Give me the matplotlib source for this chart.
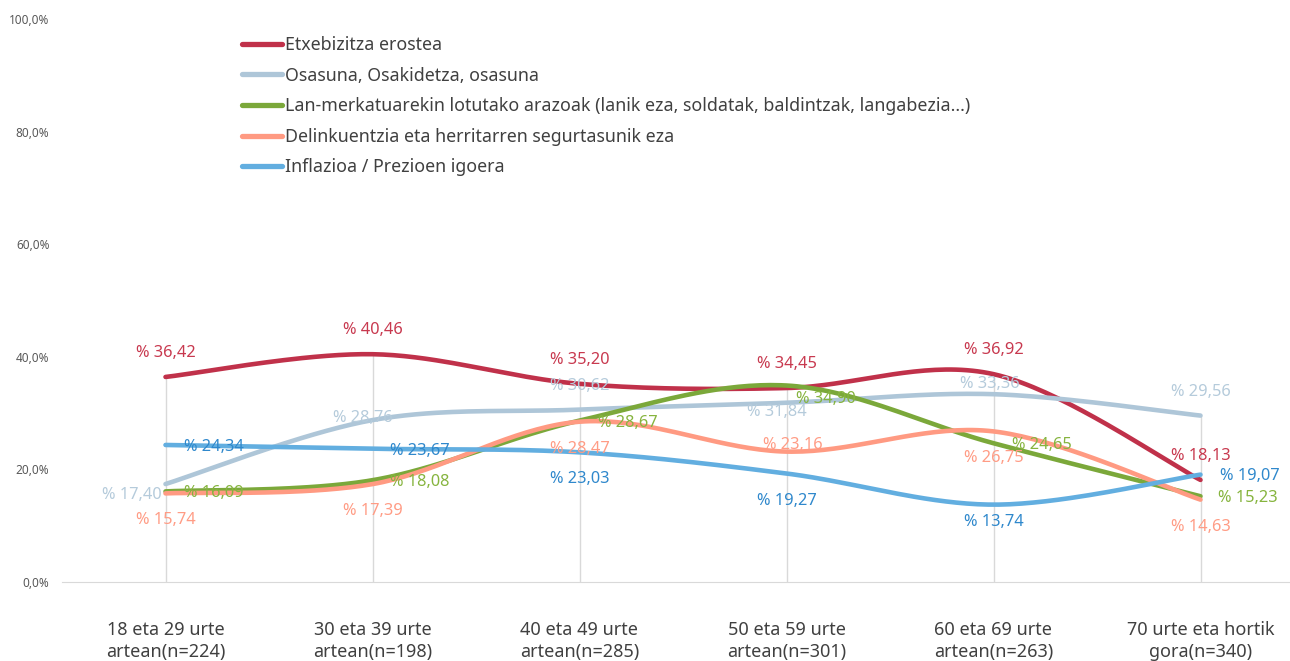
import numpy as np
import matplotlib
matplotlib.use("Agg")
import matplotlib.pyplot as plt

plt.rcParams['font.family'] = ['Noto Sans', 'DejaVu Sans']

categories = ["18 eta 29 urte\nartean(n=224)", "30 eta 39 urte\nartean(n=198)",
              "40 eta 49 urte\nartean(n=285)", "50 eta 59 urte\nartean(n=301)",
              "60 eta 69 urte\nartean(n=263)", "70 urte eta hortik\ngora(n=340)"]

etxebizitza = [36.42, 40.46, 35.20, 34.45, 36.92, 18.13]
osasuna = [17.40, 28.76, 30.62, 31.84, 33.36, 29.56]
lan_merkatua = [16.09, 18.08, 28.67, 34.90, 24.65, 15.23]
delinkuentzia = [15.74, 17.39, 28.47, 23.16, 26.75, 14.63]
inflazioa = [24.34, 23.67, 23.03, 19.27, 13.74, 19.07]

names = ["Etxebizitza erostea",
         "Osasuna, Osakidetza, osasuna",
         "Lan-merkatuarekin lotutako arazoak (lanik eza, soldatak, baldintzak, langabezia...)",
         "Delinkuentzia eta herritarren segurtasunik eza",
         "Inflazioa / Prezioen igoera"]

series = [etxebizitza, osasuna, lan_merkatua, delinkuentzia, inflazioa]
line_colors = ["#C0314A", "#AEC6D8", "#7BA83A", "#FF9A82", "#62AEE0"]
text_colors = ["#C8394F", "#B5CBDB", "#86B43E", "#FF9C85", "#2F88CC"]

# label placement per point: (dx px, dy px, ha)
A, B, R, L, C = (0, 24, 'center'), (0, -27, 'center'), (18, -2, 'left'), (-4, -11, 'right'), (-10, 2, 'center')
placements = [
    [A, A, A, A, A, A],
    [L, C, A, (-10, -9, 'center'), (-4, 10, 'center'), A],
    [R, R, R, (10, -13, 'left'), R, R],
    [B, B, B, (6, 7, 'center'), B, B],
    [R, R, B, B, (0, -17, 'center'), (20, -1, 'left')],
]


def smooth(xs, ys, n=40):
    # Bezier smoothing similar to the spreadsheet "smoothed line"
    x = np.asarray(xs, float)
    y = np.asarray(ys, float)
    px = np.concatenate([[x[0]], x, [x[-1]]])
    py = np.concatenate([[y[0]], y, [y[-1]]])
    outx, outy = [], []
    t = np.linspace(0, 1, n)
    for i in range(len(x) - 1):
        p0 = np.array([px[i + 1], py[i + 1]])
        p3 = np.array([px[i + 2], py[i + 2]])
        c1 = p0 + (np.array([px[i + 2], py[i + 2]]) - np.array([px[i], py[i]])) / 6
        c2 = p3 - (np.array([px[i + 3], py[i + 3]]) - np.array([px[i + 1], py[i + 1]])) / 6
        bx = (1 - t) ** 3 * p0[0] + 3 * (1 - t) ** 2 * t * c1[0] + 3 * (1 - t) * t ** 2 * c2[0] + t ** 3 * p3[0]
        by = (1 - t) ** 3 * p0[1] + 3 * (1 - t) ** 2 * t * c1[1] + 3 * (1 - t) * t ** 2 * c2[1] + t ** 3 * p3[1]
        outx.extend(bx)
        outy.extend(by)
    return outx, outy


fig = plt.figure(figsize=(12.9, 6.61), dpi=100)
ax = fig.add_axes([62 / 1290, 79 / 661, 1242 / 1290, 563 / 661])
xs = np.arange(len(categories))

# drop lines from the highest value down to the axis
tops = np.max(np.array(series), axis=0)
ax.vlines(xs, 0, tops, color="#D9D9D9", lw=1, zorder=1)

for vals, name, lc in zip(series, names, line_colors):
    sx, sy = smooth(xs, vals)
    ax.plot(sx, sy, color=lc, lw=3.3, solid_capstyle='round', label=name, zorder=2)

for vals, tc, pl in zip(series, text_colors, placements):
    for xi, v, (dx, dy, ha) in zip(xs, vals, pl):
        ax.annotate("% " + f"{v:.2f}".replace(".", ","), (xi, v), xytext=(dx * 0.72, dy * 0.72),
                    textcoords='offset points', ha=ha, va='center', color=tc, fontsize=11.8, zorder=3)

ax.set_xlim(-0.5, 5.5)
ax.set_ylim(0, 100)
ax.set_xticks(xs)
ax.set_xticklabels(categories, fontsize=13, color="#404040", linespacing=1.3)
ax.set_yticks(np.arange(0, 101, 20))
ax.set_yticklabels([f"{v:.1f}%".replace(".", ",") for v in np.arange(0, 101, 20)], fontsize=8.5, color="#595959")
ax.tick_params(axis='x', length=0, pad=28)
ax.tick_params(axis='y', length=0, pad=9)
for s in ['top', 'right', 'left']:
    ax.spines[s].set_visible(False)
ax.spines['bottom'].set_color("#D9D9D9")

leg = ax.legend(loc='upper left', bbox_to_anchor=(242 / 1290, 1 - 36 / 661), bbox_transform=fig.transFigure,
                frameon=False, fontsize=12.8, handlelength=2.25, handletextpad=0.17, labelspacing=0.71,
                borderaxespad=0, borderpad=0)
for t in leg.get_texts():
    t.set_color("#404040")
for h in leg.get_lines():
    h.set_linewidth(3.8)

fig.savefig("out.png", dpi=100)
